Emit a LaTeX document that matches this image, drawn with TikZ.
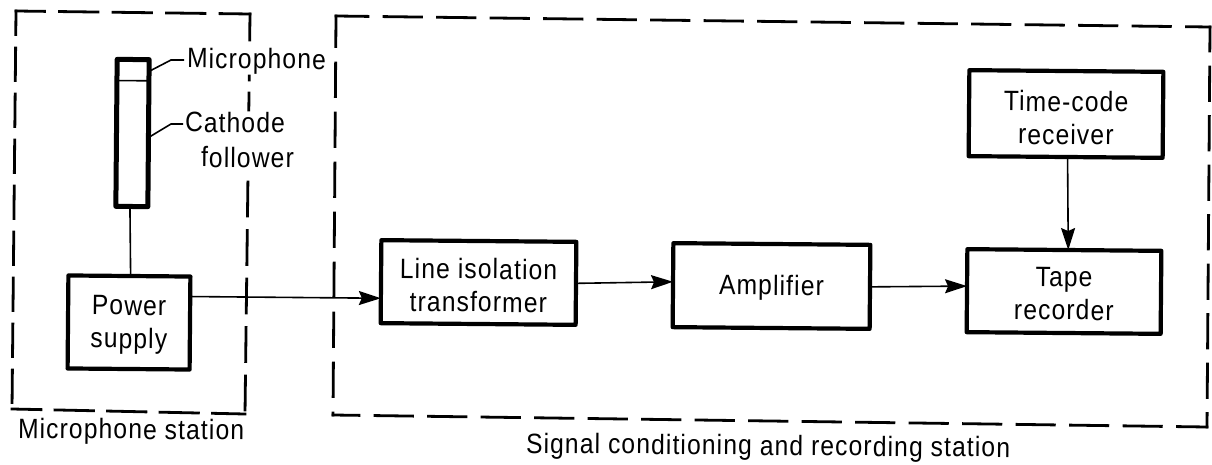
\documentclass[tikz,border=0pt]{standalone}
\usepackage{fontspec}
\setmainfont[FakeStretch=0.88,LetterSpace=4]{Liberation Sans}
\usetikzlibrary{arrows.meta,calc}
\newcommand{\topgap}[1]{\rule{0pt}{#1pt}}
\tikzset{
  every node/.style={font=\fontsize{28}{33}\selectfont, text=black, inner sep=0pt, outer sep=0pt, rotate=-0.5},
  blockbox/.style={draw=black, line width=4.2pt, align=center, line join=round},
  tubebox/.style={blockbox, line width=5pt},
  txtlabel/.style={anchor=base west},
  wire/.style={line width=1.6pt, draw=black},
  flow/.style={wire, -{Stealth[length=22pt,width=14pt,inset=3pt]}},
  zone/.style={draw=black, line width=2.8pt, line cap=rect},
}
\begin{document}
\begin{tikzpicture}[x=1pt,y=-1pt]
\useasboundingbox (0,0) rectangle (1212,465);
% microphone station outline, side by side
\coordinate (la) at (16,11);
\coordinate (lb) at (250,14);
\coordinate (lc) at (245,414);
\coordinate (ld) at (12,409);
\draw[zone, dash pattern=on 38.4pt off 15.1pt, dash phase=10pt] (la) -- (lb);
\draw[zone, dash pattern=on 32.4pt off 13.6pt, dash phase=9pt] (la) -- (ld);
\draw[zone, dash pattern=on 38.4pt off 14.1pt, dash phase=9.5pt] (ld) -- (lc);
\draw[zone] (lb) -- ($(lb)!.065!(lc)$);
\draw[zone] ($(lb)!.155!(lc)$) -- ($(lb)!.165!(lc)$);
\draw[zone] ($(lb)!.1975!(lc)$) -- ($(lb)!.24!(lc)$);
\draw[zone, dash pattern=on 33.9pt off 14.6pt] ($(lb)!.42!(lc)$) -- (lc);
% recording station outline
\coordinate (ra) at (336,16);
\coordinate (rb) at (1210,27);
\coordinate (rc) at (1207,427);
\coordinate (rd) at (333,415);
\draw[zone, dash pattern=on 37.4pt off 16.1pt, dash phase=5.5pt] (ra) -- (rb);
\draw[zone, dash pattern=on 33.4pt off 16.6pt, dash phase=3pt] (ra) -- (rd);
\draw[zone, dash pattern=on 33.4pt off 16.1pt, dash phase=9.5pt] (rb) -- (rc);
\draw[zone, dash pattern=on 37.4pt off 16.1pt, dash phase=11.5pt] (rd) -- (rc);
% blocks
\node[tubebox, minimum width=32pt, minimum height=147pt] (mic) at (132.5,133) {};
\node[blockbox, minimum width=122pt, minimum height=93pt] (pow) at (129,322.5) {\topgap{24}Power\\supply};
\node[blockbox, minimum width=195pt, minimum height=83pt] (iso) at (478.5,282.5) {\topgap{26}Line isolation\\transformer};
\node[blockbox, minimum width=197pt, minimum height=84pt] (amp) at (771.5,286) {\topgap{24}Amplifier};
\node[blockbox, minimum width=194pt, minimum height=83pt] (tape) at (1064,291.5) {\topgap{24}Tape\\recorder};
\node[blockbox, minimum width=194pt, minimum height=86pt] (time) at (1066,114) {\topgap{28}Time-code\\receiver};
% labels
\node[txtlabel] (miclbl) at (187,68) {Microphone};
\node[txtlabel] (cathlbl) at (185,132) {Cathode};
\node[txtlabel] (follbl) at (201,167) {follower};
\node[txtlabel] (stnl) at (18,438) {Microphone station};
\node[txtlabel] (stnr) at (526,453) {Signal conditioning and recording station};
% connectors
\draw[wire] ($(mic.north west)!.144!(mic.south west)$) -- ($(mic.north east)!.144!(mic.south east)$);
\coordinate (micend) at (184,60);
\coordinate (micbend) at (171,60);
\coordinate (cathend) at (183,124);
\coordinate (cathbend) at (171,124);
\draw[wire] ($(mic.north east)!.08!(mic.south east)$) -- (micbend) -- (micend);
\draw[wire] ($(mic.north east)!.53!(mic.south east)$) -- (cathbend) -- (cathend);
\draw[wire] ($(mic.south west)!.44!(mic.south east)$) -- ($(pow.north west)!.51!(pow.north east)$);
\draw[flow] ($(pow.north east)!.215!(pow.south east)$) -- ($(iso.north west)!.7!(iso.south west)$);
\draw[flow] (iso.east) -- ($(amp.north west)!.46!(amp.south west)$);
\draw[flow] (amp.east) -- ($(tape.north west)!.445!(tape.south west)$);
\draw[flow] ($(time.south west)!.51!(time.south east)$) -- ($(tape.north west)!.52!(tape.north east)$);
\end{tikzpicture}
\end{document}
